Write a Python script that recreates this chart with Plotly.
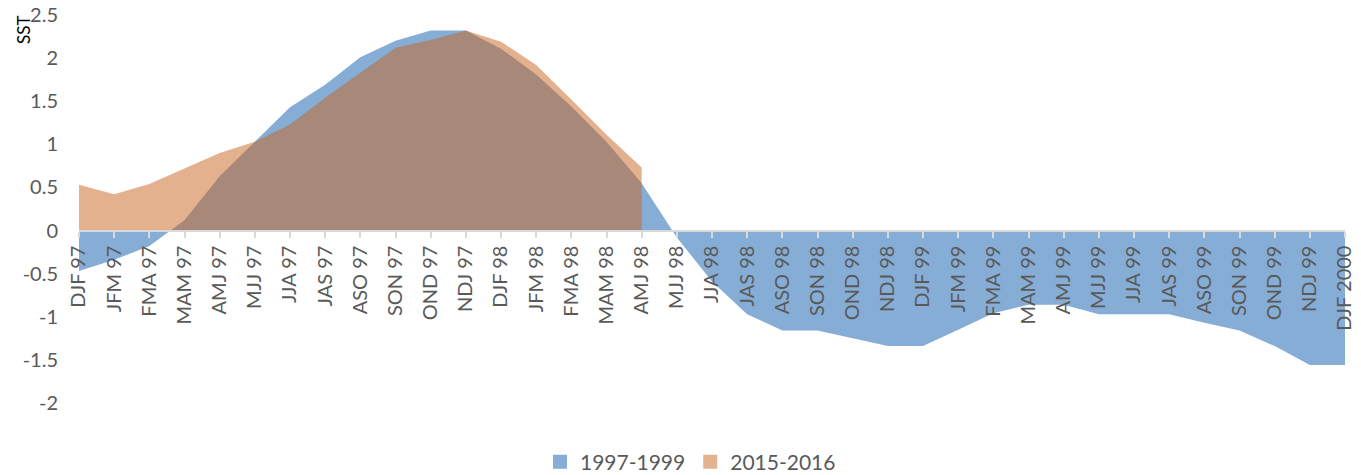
import plotly.graph_objects as go

# 3-month seasons
seasons = [
    "DJF 97", "JFM 97", "FMA 97", "MAM 97", "AMJ 97", "MJJ 97", "JJA 97", "JAS 97",
    "ASO 97", "SON 97", "OND 97", "NDJ 97", "DJF 98", "JFM 98", "FMA 98", "MAM 98",
    "AMJ 98", "MJJ 98", "JJA 98", "JAS 98", "ASO 98", "SON 98", "OND 98", "NDJ 98",
    "DJF 99", "JFM 99", "FMA 99", "MAM 99", "AMJ 99", "MJJ 99", "JJA 99", "JAS 99",
    "ASO 99", "SON 99", "OND 99", "NDJ 99", "DJF 2000",
]

sst_1997_1999 = [
    -0.47, -0.34, -0.18, 0.12, 0.63, 1.03, 1.43, 1.69,
    2.01, 2.20, 2.32, 2.32, 2.11, 1.81, 1.44, 1.03,
    0.55, -0.08, -0.59, -0.97, -1.16, -1.16, -1.25, -1.34,
    -1.34, -1.15, -0.96, -0.86, -0.86, -0.97, -0.97, -0.97,
    -1.07, -1.16, -1.34, -1.56, -1.56,
]

# 2015-2016 only covers the first 17 seasons
sst_2015_2016 = [
    0.53, 0.42, 0.54, 0.72, 0.90, 1.03, 1.23, 1.54,
    1.83, 2.12, 2.21, 2.32, 2.19, 1.92, 1.52, 1.11,
    0.73,
]

blue = "#86ADD5"
orange = "rgba(200,100,30,0.5)"
font_family = "Lato, Carlito, sans-serif"
tick_font = dict(family=font_family, size=20, color="#595959")

fig = go.Figure()

fig.add_trace(go.Scatter(
    x=seasons, y=sst_1997_1999,
    mode="none", fill="tozeroy",
    fillcolor=blue,
    name="1997-1999", showlegend=False,
))

fig.add_trace(go.Scatter(
    x=seasons[:len(sst_2015_2016)], y=sst_2015_2016,
    mode="none", fill="tozeroy",
    fillcolor=orange,
    name="2015-2016", showlegend=False,
))

# square legend keys, like the Excel legend
for name, col in [("1997-1999", blue), ("2015-2016", "#E3B28F")]:
    fig.add_trace(go.Scatter(
        x=[None], y=[None], mode="markers",
        marker=dict(symbol="square", size=14, color=col),
        name=name,
    ))

fig.update_layout(
    width=1361, height=475,
    margin=dict(l=79, r=16, t=15, b=72, autoexpand=False),
    paper_bgcolor="white",
    plot_bgcolor="white",
    showlegend=True,
    legend=dict(
        orientation="h",
        x=0.483, xanchor="center",
        y=-0.152, yanchor="middle",
        font=dict(family=font_family, size=21, color="#595959"),
        itemwidth=30,
        tracegroupgap=0,
    ),
    xaxis=dict(
        type="category",
        range=[0, len(seasons) - 1],
        anchor="free",
        position=2 / 4.5,
        showline=True, linecolor="#D9D9D9", linewidth=2,
        ticks="outside", ticklen=6, tickcolor="#D9D9D9", tickwidth=2,
        tickangle=-90,
        tickfont=tick_font,
        showgrid=False,
        zeroline=False,
        automargin=False,
    ),
    yaxis=dict(
        range=[-2, 2.5],
        tickvals=[-2, -1.5, -1, -0.5, 0, 0.5, 1, 1.5, 2, 2.5],
        ticktext=["-2", "-1.5", "-1", "-0.5", "0", "0.5", "1", "1.5", "2", "2.5"],
        tickfont=tick_font,
        ticklabelstandoff=20,
        showgrid=False,
        zeroline=False,
        showline=False,
        automargin=False,
    ),
    annotations=[dict(
        text="SST", textangle=-90,
        xref="paper", yref="paper",
        x=-0.044, y=0.962,
        xanchor="center", yanchor="middle",
        showarrow=False,
        font=dict(family=font_family, size=17, color="black"),
    )],
)

# drop the browser's default 8px body margin so the figure fills the window
fig.write_html(
    "out.html",
    config={"displayModeBar": False},
    post_script="document.body.style.margin='0';document.body.style.overflow='hidden';",
)
